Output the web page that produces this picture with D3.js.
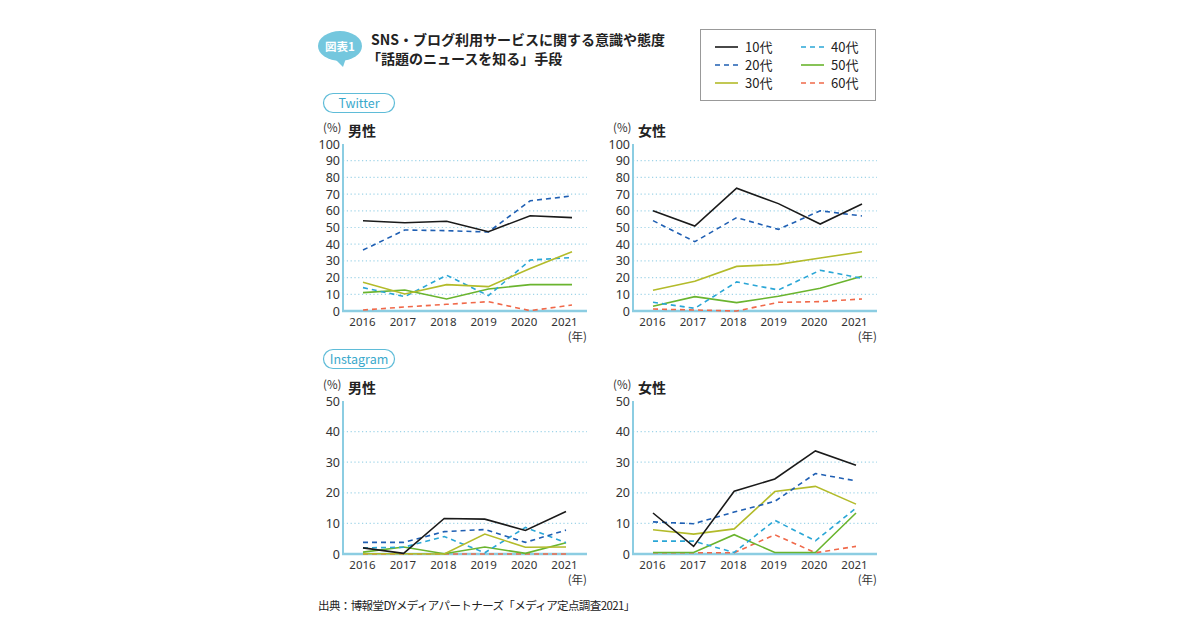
<!DOCTYPE html>
<html>
<head>
<meta charset="utf-8">
<script src="https://cdn.jsdelivr.net/npm/d3@7"></script>
<style>
  body { margin: 0; background: #fff; }
  text { font-family: "Noto Sans CJK JP", "Noto Sans", sans-serif; }
</style>
</head>
<body>
<script>
// data
var years = ["2016", "2017", "2018", "2019", "2020", "2021"];
var ageGroups = ["10代", "20代", "30代", "40代", "50代", "60代"];

// rows: 10代 .. 60代
var twitterMale = [
    [54, 52.8, 53.7, 47.5, 57, 55.9],
    [36.5, 48.5, 48.1, 47.3, 66, 68.9],
    [17.2, 10.2, 15.8, 14.6, 25.5, 35.5],
    [14, 8.6, 21.4, 9.2, 30.5, 32],
    [11, 12.6, 7.2, 13.2, 15.8, 15.8],
    [0.6, 2.4, 4, 5.6, 0.2, 3.6]
];
var twitterFemale = [
    [60, 50.9, 73.5, 64.3, 52.1, 64.1],
    [54.1, 41.5, 55.9, 48.9, 60, 56.9],
    [12.4, 17.8, 26.7, 27.9, 31.7, 35.5],
    [5.2, 1.6, 17.4, 12.6, 24.4, 19.6],
    [2.8, 8.6, 5, 8.8, 13.6, 20.8],
    [1.2, 0.6, 0, 5.2, 5.6, 7.2]
];
var instagramMale = [
    [2, 0.2, 11.6, 11.4, 7.7, 13.9],
    [3.8, 3.8, 7.3, 8, 3.8, 7.8],
    [0.1, 0.1, 0, 6.5, 2.2, 2.3],
    [2, 2.2, 5.7, 0.4, 8.7, 3.7],
    [0.6, 2.3, 0.1, 2.3, 0.2, 3.7],
    [0, 0, 0, 0, 0, 0]
];
var instagramFemale = [
    [13.4, 2.5, 20.5, 24.5, 33.7, 29],
    [10.5, 9.9, 13.7, 17.2, 26.3, 23.9],
    [7.9, 6.5, 8.2, 20.4, 22.1, 16.3],
    [4.2, 4.2, 0.5, 11, 4.3, 15],
    [0.5, 0.5, 6.3, 0.5, 0.5, 13.4],
    [0.4, 0.4, 0.4, 6.3, 0.4, 2.5]
];
var twitterTicks = [0, 10, 20, 30, 40, 50, 60, 70, 80, 90, 100];
var instagramTicks = [0, 10, 20, 30, 40, 50];

// styles
var seriesColor = ["#1a1a1a", "#1f5fb3", "#b3bb2a", "#2aa6d6", "#6ab42e", "#f0694a"];
var seriesDash = [null, "5,4", null, "5,4", null, "5,4"];
var axisBlue = "#8ccde2";
var gridBlue = "#9fd4e8";
var accent = "#5fbcd8";

var svg = d3.select("body").append("svg")
    .attr("width", 1200)
    .attr("height", 630);

// title badge
var badge = svg.append("g");
badge.append("path")
    .attr("d", "M334,58 L343,67 L346,58 Z")
    .attr("fill", "#74c7de");
badge.append("ellipse")
    .attr("cx", 340).attr("cy", 46)
    .attr("rx", 22).attr("ry", 15)
    .attr("fill", "#74c7de");
badge.append("text")
    .attr("x", 340).attr("y", 50.5)
    .attr("text-anchor", "middle")
    .attr("fill", "#fff")
    .style("font-size", "11.5px")
    .style("font-weight", "bold")
    .text("図表1");

svg.append("text")
    .attr("x", 371).attr("y", 45)
    .attr("fill", "#222")
    .style("font-size", "14px")
    .style("font-weight", "bold")
    .text("SNS・ブログ利用サービスに関する意識や態度");
svg.append("text")
    .attr("x", 367).attr("y", 64)
    .attr("fill", "#222")
    .style("font-size", "14px")
    .style("font-weight", "bold")
    .text("「話題のニュースを知る」手段");

// legend
var legend = svg.append("g");
legend.append("rect")
    .attr("x", 700.5).attr("y", 29.5)
    .attr("width", 175).attr("height", 71)
    .attr("fill", "#fff")
    .attr("stroke", "#999");

ageGroups.forEach(function(name, i) {
    var col = Math.floor(i / 3),
        row = i % 3;
    var lx = 715 + col * 86,
        ly = 47 + row * 18;
    legend.append("line")
        .attr("x1", lx).attr("x2", lx + 23)
        .attr("y1", ly).attr("y2", ly)
        .attr("stroke", seriesColor[i])
        .attr("stroke-width", 1.6)
        .attr("stroke-dasharray", seriesDash[i]);
    legend.append("text")
        .attr("x", lx + 30).attr("y", ly + 4.5)
        .attr("fill", "#222")
        .style("font-size", "13px")
        .text(name);
});

// platform pills
function pill(x, y, w, label) {
    svg.append("rect")
        .attr("x", x).attr("y", y)
        .attr("width", w).attr("height", 19)
        .attr("rx", 9.5)
        .attr("fill", "#fff")
        .attr("stroke", accent)
        .attr("stroke-width", 1.2);
    svg.append("text")
        .attr("x", x + w / 2).attr("y", y + 14)
        .attr("text-anchor", "middle")
        .attr("fill", "#3aa9cc")
        .style("font-size", "12.5px")
        .text(label);
}
pill(323.5, 93.5, 71, "Twitter");
pill(323.5, 349.5, 71, "Instagram");

function drawPanel(left, bottom, top, ticks, endOffset, title, data) {
    var right = left + 244;
    var max = ticks[ticks.length - 1];

    var x = d3.scalePoint()
        .domain(years)
        .range([left + 20, left + endOffset]);
    // year labels sit a little tighter than the points
    var xLabel = d3.scalePoint()
        .domain(years)
        .range([left + 19, left + 221]);
    var y = d3.scaleLinear()
        .domain([0, max])
        .range([bottom, top]);

    var g = svg.append("g");

    // grid
    g.selectAll(".grid")
        .data(ticks.filter(function(t) { return t > 0 && t < max; }))
        .enter().append("line")
        .attr("x1", left).attr("x2", right)
        .attr("y1", function(d) { return y(d); })
        .attr("y2", function(d) { return y(d); })
        .attr("stroke", gridBlue)
        .attr("stroke-width", 1.2)
        .attr("stroke-dasharray", "1.2,2.6");

    // Y Axis
    var yAxis = g.append("g")
        .attr("transform", "translate(" + (left - 2) + ",0)")
        .call(d3.axisLeft(y).tickValues(ticks).tickSize(0).tickPadding(1));
    yAxis.select(".domain").remove();
    yAxis.selectAll("text")
        .attr("fill", "#333")
        .style("font-size", "12.5px")
        .style("font-family", "'Noto Sans', sans-serif");

    // X Axis
    var xAxis = g.append("g")
        .attr("transform", "translate(0," + bottom + ")")
        .call(d3.axisBottom(xLabel).tickSize(0).tickPadding(7));
    xAxis.select(".domain").remove();
    xAxis.selectAll("text")
        .attr("fill", "#333")
        .style("font-size", "11.5px")
        .style("font-family", "'Noto Sans', sans-serif");

    g.append("line")
        .attr("x1", left).attr("x2", left)
        .attr("y1", bottom).attr("y2", top)
        .attr("stroke", axisBlue)
        .attr("stroke-width", 2);
    g.append("line")
        .attr("x1", left - 1).attr("x2", right)
        .attr("y1", bottom).attr("y2", bottom)
        .attr("stroke", axisBlue)
        .attr("stroke-width", 2.4);

    g.append("text")
        .attr("x", right).attr("y", bottom + 30)
        .attr("text-anchor", "end")
        .attr("fill", "#333")
        .style("font-size", "11.5px")
        .text("(年)");

    // heading
    g.append("text")
        .attr("x", left - 20).attr("y", top - 12)
        .attr("fill", "#333")
        .style("font-size", "11.5px")
        .text("(%)");
    g.append("text")
        .attr("x", left + 5).attr("y", top - 8)
        .attr("fill", "#222")
        .style("font-size", "14px")
        .style("font-weight", "bold")
        .text(title);

    var line = d3.line()
        .x(function(d, i) { return x(years[i]); })
        .y(function(d) { return y(d); });

    for (var i = data.length - 1; i >= 0; i--) {
        g.append("path")
            .datum(data[i])
            .attr("d", line)
            .attr("fill", "none")
            .attr("stroke", seriesColor[i])
            .attr("stroke-width", 1.6)
            .attr("stroke-dasharray", seriesDash[i]);
    }
}

drawPanel(343, 311, 144, twitterTicks, 229, "男性", twitterMale);
drawPanel(633, 311, 144, twitterTicks, 229, "女性", twitterFemale);
drawPanel(343, 554, 401, instagramTicks, 223, "男性", instagramMale);
drawPanel(633, 554, 401, instagramTicks, 223, "女性", instagramFemale);

// source
svg.append("text")
    .attr("x", 318).attr("y", 610)
    .attr("fill", "#222")
    .style("font-size", "11.5px")
    .style("letter-spacing", "-0.6px")
    .text("出典：博報堂DYメディアパートナーズ「メディア定点調査2021」");
</script>
</body>
</html>
